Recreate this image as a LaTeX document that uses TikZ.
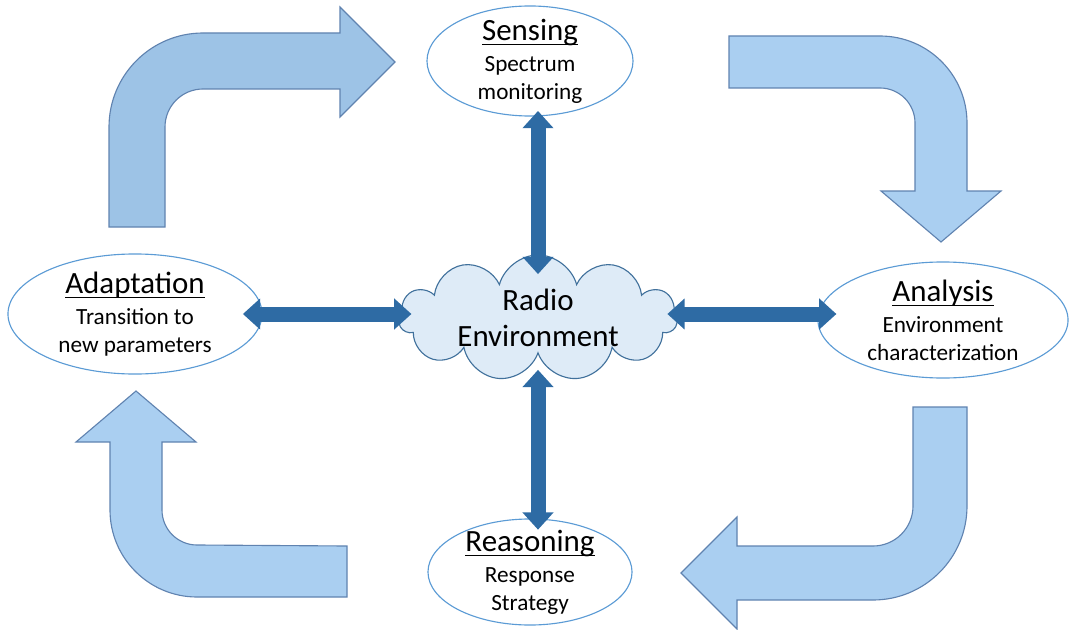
\documentclass[tikz,border=0pt]{standalone}
\usepackage{amsmath}
\usepackage{fontspec}
\setmainfont{Carlito}
\usetikzlibrary{shapes.geometric,shapes.symbols,arrows.meta}

\definecolor{ringblue}{RGB}{91,155,213}
\definecolor{linkblue}{RGB}{46,107,164}
\definecolor{cloudfill}{RGB}{222,235,247}
\definecolor{cloudline}{RGB}{65,113,156}
\definecolor{flowA}{RGB}{157,195,230}
\definecolor{flowB}{RGB}{170,207,241}
\definecolor{flowline}{RGB}{96,131,176}
\newcommand{\stagename}[1]{{\fontsize{22}{24}\selectfont\underline{\smash[b]{#1}}}}

\begin{document}
\begin{tikzpicture}[x=0.025cm,y=-0.025cm,
	stage/.style={ellipse,draw=ringblue,line width=0.8pt,fill=white,align=center,inner sep=-10pt,font=\fontsize{16.5}{20}\selectfont},
	duplex/.style={linkblue,line width=0.375cm,{Triangle[width=0.75cm,length=0.43cm]}-{Triangle[width=0.75cm,length=0.43cm]}},
	flow/.style={draw=flowline,line width=0.8pt,line join=miter}]
	\useasboundingbox (0,0) rectangle (1070,630);

	% bent arrows of the cycle
	\filldraw[flow,fill=flowA] (109,227) -- (109,127) arc[start angle=180,end angle=270,radius=94] -- (340,33) -- (340,7) -- (395,62) -- (340,117) -- (340,89) -- (203,89) arc[start angle=270,end angle=180,radius=38] -- (165,227) -- cycle;
	\filldraw[flow,fill=flowB] (729,36) -- (880,36) arc[start angle=270,end angle=360,radius=87] -- (967,191) -- (1001,191) -- (941,242) -- (881,191) -- (915,191) -- (915,123) arc[start angle=0,end angle=-90,radius=35] -- (729,88) -- cycle;
	\filldraw[flow,fill=flowB] (913,407) -- (967,407) -- (967,506) arc[start angle=0,end angle=90,radius=94] -- (737,600) -- (737,629) -- (681,573) -- (737,517) -- (737,546) -- (873,546) arc[start angle=90,end angle=0,radius=40] -- cycle;
	\filldraw[flow,fill=flowB] (347,546) -- (347,597) -- (197,597) arc[start angle=90,end angle=180,radius=87] -- (110,442) -- (76,442) -- (136,391) -- (196,442) -- (162,442) -- (162,510) arc[start angle=180,end angle=90,radius=35] -- cycle;

	\node[stage,minimum width=5.15cm,minimum height=2.75cm] (sense) at (530,61) {\stagename{Sensing}\\[2pt]Spectrum\\monitoring};
	\node[stage,minimum width=6.35cm,minimum height=3.0cm] (adapt) at (135,314) {\stagename{Adaptation}\\[2pt]Transition to\\new parameters};
	\node[stage,minimum width=6.25cm,minimum height=2.9cm] (anal) at (943,320) {\stagename{Analysis}\\[2pt]Environment\\characterization};
	\node[stage,minimum width=5.1cm,minimum height=2.65cm] (reason) at (530,572) {\stagename{Reasoning}\\[2pt]Response\\Strategy};

	\node[cloud,cloud puffs=11,aspect=2.3,draw=cloudline,fill=cloudfill,line width=0.8pt,minimum width=6.95cm,minimum height=3.15cm,inner sep=-10pt,align=center,font=\fontsize{22}{25.5}\selectfont] (env) at (538,318) {Radio\\Environment};

	% links to the environment
	\draw[duplex,shorten <=-4pt,shorten >=-14pt] (sense.south -| env.north) -- (env.north);
	\draw[duplex,shorten <=11pt,shorten >=-8pt] (env.south) -- (env.south |- reason.north);
	\draw[duplex,shorten <=-14pt,shorten >=-9pt] (adapt.east) -- (env.west |- adapt.east);
	\draw[duplex,shorten <=-7pt,shorten >=-13.5pt] (env.east |- adapt.east) -- (anal.west |- adapt.east);
\end{tikzpicture}
\end{document}
